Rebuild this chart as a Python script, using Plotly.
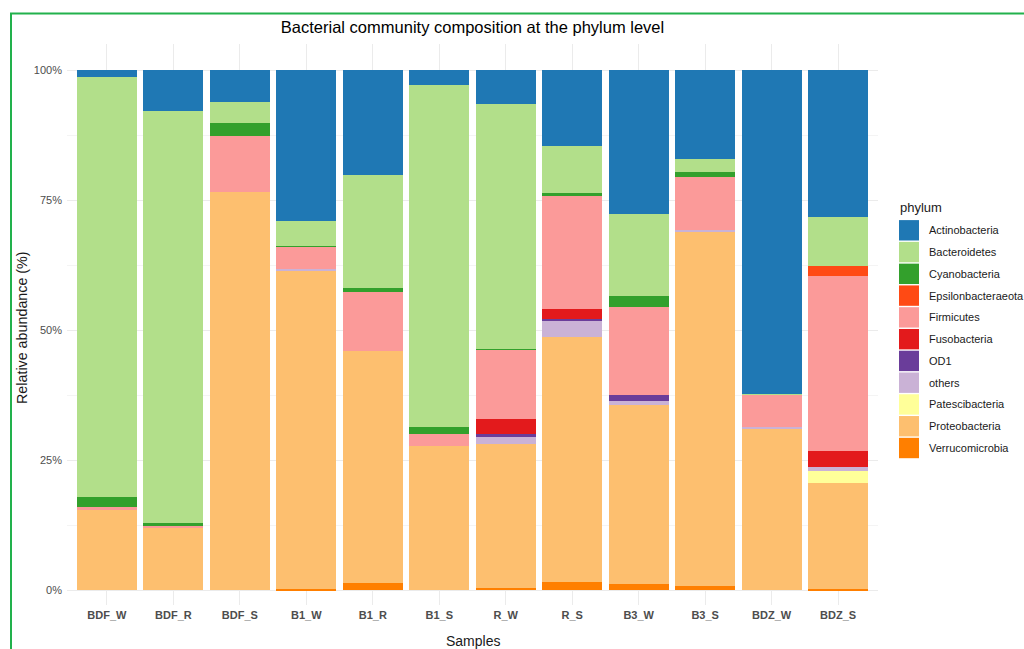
import plotly.graph_objects as go

# Samples along the x axis
samples = ["BDF_W", "BDF_R", "BDF_S", "B1_W", "B1_R", "B1_S",
           "R_W", "R_S", "B3_W", "B3_S", "BDZ_W", "BDZ_S"]

# Relative abundance (%) per phylum, one value per sample
actinobacteria = [1.3, 7.9, 6.2, 29.0, 20.1, 2.8, 6.5, 14.6, 27.6, 17.1, 62.2, 28.2]
bacteroidetes = [80.8, 79.2, 3.9, 4.8, 21.7, 65.7, 47.1, 9.0, 15.9, 2.5, 0.2, 9.5]
cyanobacteria = [1.8, 0.6, 2.5, 0.2, 0.9, 1.4, 0.1, 0.6, 2.0, 1.0, 0.0, 0.0]
epsilonbacteraeota = [0, 0, 0, 0, 0, 0, 0, 0, 0, 0, 0, 1.9]
firmicutes = [0.7, 0.2, 10.8, 4.3, 11.3, 2.3, 13.4, 21.7, 17.0, 10.2, 6.1, 33.7]
fusobacteria = [0, 0, 0, 0, 0, 0, 2.9, 1.9, 0, 0, 0, 3.0]
od1 = [0, 0, 0, 0, 0, 0, 0.5, 0.5, 1.1, 0, 0, 0]
others = [0, 0, 0, 0.4, 0, 0, 1.3, 3.0, 0.8, 0.4, 0.3, 0.8]
patescibacteria = [0, 0, 0, 0, 0, 0, 0, 0, 0, 0, 0, 2.2]
proteobacteria = [15.4, 12.1, 76.6, 61.0, 44.5, 27.8, 27.8, 47.1, 34.4, 68.0, 31.2, 20.4]
verrucomicrobia = [0, 0, 0, 0.3, 1.5, 0, 0.4, 1.6, 1.2, 0.8, 0, 0.3]

# Legend order (top to bottom); stacks are drawn in the reverse order
phyla = ["Actinobacteria", "Bacteroidetes", "Cyanobacteria", "Epsilonbacteraeota",
         "Firmicutes", "Fusobacteria", "OD1", "others", "Patescibacteria",
         "Proteobacteria", "Verrucomicrobia"]
values = [actinobacteria, bacteroidetes, cyanobacteria, epsilonbacteraeota,
          firmicutes, fusobacteria, od1, others, patescibacteria,
          proteobacteria, verrucomicrobia]
colors = ["#1F78B4", "#B2DF8A", "#33A02C", "#FF4A14", "#FB9A99", "#E31A1C",
          "#6A3D9A", "#CAB2D6", "#FFFF99", "#FDBF6F", "#FF7F00"]

W, H = 1024, 649
L, R, T, B = 67, 878, 44, 605  # plot-area edges in pixels
FONT = "Liberation Sans, Arial, Helvetica, sans-serif"


def px_x(px):
    return (px - L) / (R - L)


def px_y(py):
    return (B - py) / (B - T)


fig = go.Figure()
for name, vals, col in reversed(list(zip(phyla, values, colors))):
    fig.add_trace(go.Bar(
        x=samples, y=vals, name=name,
        marker=dict(color=col, line=dict(width=0)),
        showlegend=False,
    ))

# Legend drawn as keys + labels to the right of the panel
shapes = []
annotations = []
key_x0, key_x1 = 899, 919
first_center, step = 230.3, 21.77
for i, (name, col) in enumerate(zip(phyla, colors)):
    cy = first_center + i * step
    shapes.append(dict(
        type="rect", xref="paper", yref="paper",
        x0=px_x(key_x0), x1=px_x(key_x1),
        y0=px_y(cy + 10.2), y1=px_y(cy - 10.2),
        fillcolor=col, line=dict(width=0), layer="above",
    ))
    annotations.append(dict(
        x=px_x(927), y=px_y(cy), xref="paper", yref="paper",
        text=name, showarrow=False, xanchor="left", yanchor="middle",
        font=dict(family=FONT, size=11, color="#1A1A1A"),
    ))
annotations.append(dict(
    x=px_x(898), y=px_y(207), xref="paper", yref="paper",
    text="phylum", showarrow=False, xanchor="left", yanchor="middle",
    font=dict(family=FONT, size=13, color="#1A1A1A"),
))

# Axis titles
annotations.append(dict(
    x=px_x(472.5), y=px_y(641), xref="paper", yref="paper",
    text="Samples", showarrow=False, xanchor="center", yanchor="middle",
    font=dict(family=FONT, size=14, color="#1A1A1A"),
))
annotations.append(dict(
    x=px_x(22), y=px_y(328), xref="paper", yref="paper",
    text="Relative abundance (%)", showarrow=False, textangle=-90,
    xanchor="center", yanchor="middle",
    font=dict(family=FONT, size=14.3, color="#1A1A1A"),
))

# Green frame around the figure
shapes.append(dict(
    type="rect", xref="paper", yref="paper",
    x0=px_x(11), x1=px_x(1040), y0=px_y(665), y1=px_y(13.5),
    line=dict(color="#22B14C", width=2), fillcolor="rgba(0,0,0,0)",
    layer="above",
))

fig.update_layout(
    width=W, height=H,
    margin=dict(l=L, r=W - R, t=T, b=H - B),
    paper_bgcolor="white", plot_bgcolor="white",
    barmode="stack", bargap=0.1,
    title=dict(
        text="Bacterial community composition at the phylum level",
        x=px_x(472.5), xref="paper", xanchor="center",
        y=1 - 27 / H, yref="container", yanchor="middle",
        font=dict(family=FONT, size=16.5, color="#000000"),
    ),
    font=dict(family=FONT),
    shapes=shapes,
    annotations=annotations,
    showlegend=False,
)

fig.update_xaxes(
    type="category", categoryorder="array", categoryarray=samples,
    range=[-0.6, len(samples) - 0.4],
    showgrid=True, gridcolor="#EBEBEB", gridwidth=1,
    showline=False, zeroline=False, ticks="",
    tickfont=dict(family=FONT, size=11, color="#4D4D4D", weight="bold"),
    ticklabelstandoff=2,
)

fig.update_yaxes(
    range=[-2.8, 105],
    tickvals=[0, 25, 50, 75, 100],
    ticktext=["0%", "25%", "50%", "75%", "100%"],
    showgrid=True, gridcolor="#EBEBEB", gridwidth=1,
    minor=dict(tickvals=[12.5, 37.5, 62.5, 87.5], showgrid=True,
               gridcolor="#F4F4F4", gridwidth=1),
    zeroline=False, showline=False, ticks="",
    tickfont=dict(family=FONT, size=11, color="#4D4D4D"),
    ticklabelstandoff=4,
)

fig.write_html("out.html")
